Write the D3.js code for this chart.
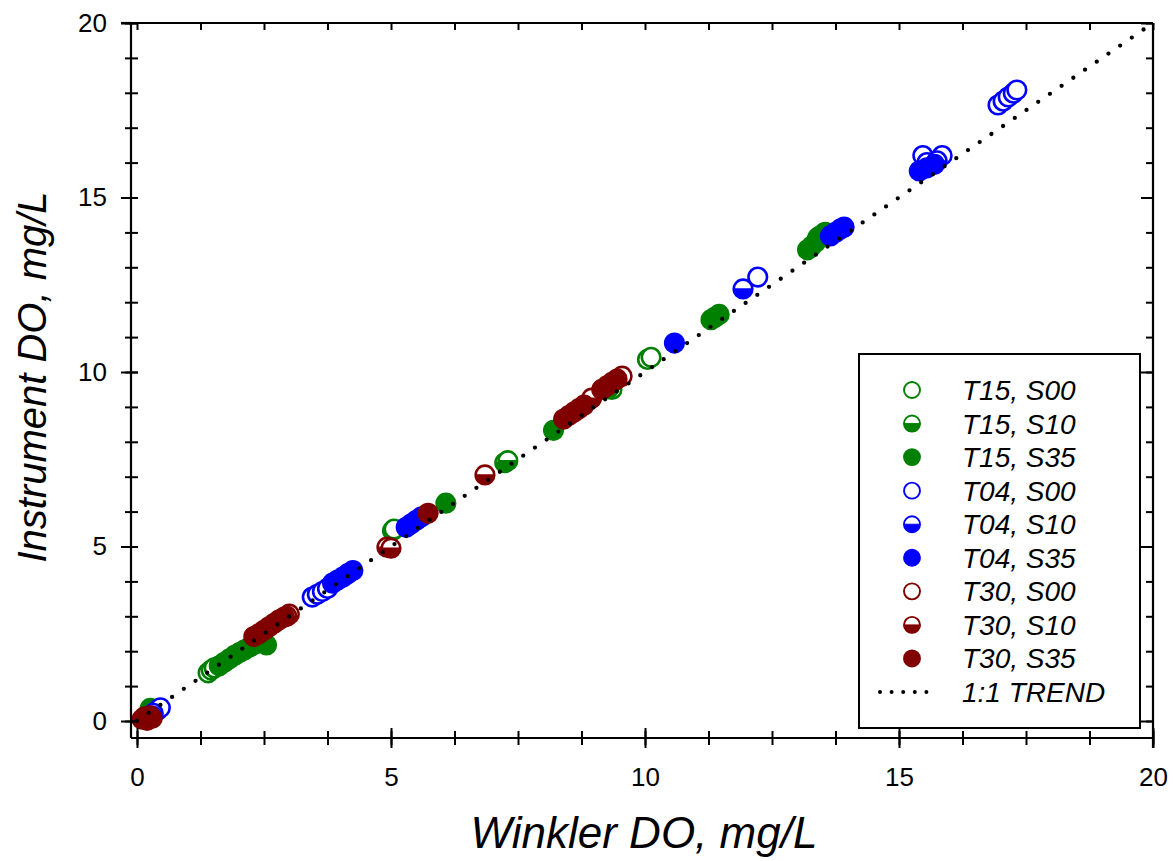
<!DOCTYPE html>
<html>
<head>
<meta charset="utf-8">
<script src="https://cdn.jsdelivr.net/npm/d3@7"></script>
<style>
  html, body { margin: 0; padding: 0; background: #fff; }
  svg { display: block; }
  text { font-family: Arial, "Liberation Sans", sans-serif; fill: #000; }
</style>
</head>
<body>
<svg id="chart" width="1173" height="861"></svg>
<script>
// ---- data (Winkler DO, Instrument DO) in mg/L ----
const T15_S00 = [[1.40,1.38],[1.46,1.46],[1.52,1.52],[5.03,5.45],[5.06,5.50],[9.35,9.50],[10.05,10.36],[10.12,10.42],[13.40,13.85]];
const T15_S10 = [[7.24,7.40],[7.30,7.46],[9.28,9.52],[13.45,13.90],[13.52,13.97]];
const T15_S35 = [[0.26,0.36],[1.62,1.58],[1.72,1.68],[1.82,1.78],[1.92,1.88],[2.02,1.96],[2.12,2.04],[2.22,2.12],[2.32,2.20],[2.55,2.18],
                 [6.08,6.24],[8.20,8.33],[11.30,11.50],[11.38,11.57],[11.46,11.65],
                 [13.20,13.50],[13.28,13.60],[13.36,13.72],[13.46,13.86],[13.55,14.00]];
const T04_S00 = [[0.40,0.30],[0.46,0.38],[3.45,3.55],[3.55,3.63],[3.65,3.71],[3.75,3.80],[12.22,12.72],
                 [15.47,16.20],[15.85,16.20],[16.95,17.65],[17.05,17.76],[17.15,17.88],[17.25,17.99],[17.32,18.08]];
const T04_S10 = [[0.32,0.22],[11.93,12.38],[15.55,16.00],[15.75,16.05]];
const T04_S35 = [[0.30,0.14],[3.85,3.95],[3.95,4.04],[4.05,4.12],[4.15,4.22],[4.25,4.31],
                 [5.30,5.55],[5.40,5.65],[5.50,5.75],[5.60,5.85],[10.58,10.83],
                 [13.65,13.90],[13.75,14.00],[13.85,14.10],[13.92,14.15],[15.40,15.76],[15.55,15.85],[15.70,15.95]];
const T30_S00 = [[3.00,3.06],[9.55,9.88]];
const T30_S10 = [[2.95,3.00],[4.92,4.98],[5.00,4.95],[6.85,7.05],[8.95,9.25]];
const T30_S35 = [[0.10,0.05],[0.15,0.12],[0.20,0.02],[0.25,0.15],[0.30,0.08],
                 [2.30,2.42],[2.40,2.50],[2.50,2.60],[2.60,2.70],[2.70,2.80],[2.80,2.90],[2.90,2.98],
                 [5.73,5.95],[8.40,8.65],[8.50,8.75],[8.60,8.85],[8.70,8.95],[8.80,9.05],
                 [9.15,9.50],[9.25,9.60],[9.35,9.70],[9.45,9.80]];
const trend = [[0,0],[20,20]];

const seriesNames = ["T15, S00","T15, S10","T15, S35","T04, S00","T04, S10","T04, S35","T30, S00","T30, S10","T30, S35"];
const seriesData  = [T15_S00,T15_S10,T15_S35,T04_S00,T04_S10,T04_S35,T30_S00,T30_S10,T30_S35];
const seriesColor = ["#008000","#008000","#008000","#0000ff","#0000ff","#0000ff","#800000","#800000","#800000"];
const seriesFill  = ["open","half","full","open","half","full","open","half","full"];
const trendLabel = "1:1 TREND";
const xTitle = "Winkler DO, mg/L";
const yTitle = "Instrument DO, mg/L";
const majorTicks = [0,5,10,15,20];
const xMinorTicks = d3.range(0, 20.001, 1.25);
const yMinorTicks = d3.range(0, 20.001, 1);

// ---- layout ----
const svg = d3.select("#chart");
const x = d3.scaleLinear().domain([0,20]).range([137,1153]);
const y = d3.scaleLinear().domain([0,20]).range([721,23]);
const frameLeft = 131, frameBottom = 738;

function drawMarker(g, kind, color, r, sw) {
  const arc = d3.arc().innerRadius(0).outerRadius(r).startAngle(Math.PI/2).endAngle(3*Math.PI/2);
  if (kind === "full") {
    g.append("circle").attr("r", r).attr("fill", color).attr("stroke", color).attr("stroke-width", sw);
  } else {
    g.append("circle").attr("r", r).attr("fill", "#fff").attr("stroke", color).attr("stroke-width", sw);
    if (kind === "half") g.append("path").attr("d", arc()).attr("fill", color).attr("stroke", color).attr("stroke-width", sw*0.5);
  }
}

const pts = svg.append("g");
seriesData.forEach((data, i) => {
  pts.selectAll(null).data(data).enter().append("g")
    .attr("transform", d => `translate(${x(d[0])},${y(d[1])})`)
    .each(function() { drawMarker(d3.select(this), seriesFill[i], seriesColor[i], 9.3, 2.6); });
});

// trend line (dotted)
svg.append("path")
  .attr("d", d3.line().x(d => x(d[0])).y(d => y(d[1]))(trend))
  .attr("fill", "none").attr("stroke", "#000").attr("stroke-width", 4.3)
  .attr("stroke-linecap", "round").attr("stroke-dasharray", "0,14.2");

// ---- axes ----
const axG = svg.append("g");
function styleAxis(g) {
  g.select(".domain").remove();
  g.selectAll("line").attr("stroke", "#000").attr("stroke-width", 2);
}
const tickFont = g => g.selectAll("text").attr("font-size", 26)
  .attr("font-family", "Arial, 'Liberation Sans', sans-serif").attr("fill", "#000");
// bottom minor (crossing)
axG.append("g").attr("transform", `translate(0,${frameBottom})`)
  .call(d3.axisBottom(x).tickValues(xMinorTicks).tickSize(7).tickFormat(""))
  .call(styleAxis).call(g => g.selectAll("line").attr("y1", -7));
// bottom major
axG.append("g").attr("transform", `translate(0,${frameBottom})`)
  .call(d3.axisBottom(x).tickValues(majorTicks).tickSize(10).tickPadding(20).tickFormat(d3.format("d")))
  .call(styleAxis).call(g => g.selectAll("line").attr("y1", -10)).call(tickFont);
// top (inward)
axG.append("g").attr("transform", `translate(0,${y(20)})`)
  .call(d3.axisBottom(x).tickValues(xMinorTicks).tickSize(7).tickFormat(""))
  .call(styleAxis);
// left minor (crossing)
axG.append("g").attr("transform", `translate(${frameLeft},0)`)
  .call(d3.axisLeft(y).tickValues(yMinorTicks).tickSize(6).tickFormat(""))
  .call(styleAxis).call(g => g.selectAll("line").attr("x1", 7));
// left major
axG.append("g").attr("transform", `translate(${frameLeft},0)`)
  .call(d3.axisLeft(y).tickValues(majorTicks).tickSize(10).tickPadding(14).tickFormat(d3.format("d")))
  .call(styleAxis).call(g => g.selectAll("line").attr("x1", 7)).call(tickFont);
// right (inward)
axG.append("g").attr("transform", `translate(${x(20)},0)`)
  .call(d3.axisLeft(y).tickValues(yMinorTicks).tickSize(7).tickFormat(""))
  .call(styleAxis);
axG.append("g").attr("transform", `translate(${x(20)},0)`)
  .call(d3.axisLeft(y).tickValues(majorTicks).tickSize(12).tickFormat(""))
  .call(styleAxis);

// frame lines
const frame = svg.append("g").attr("stroke", "#000").attr("stroke-width", 2.2);
frame.append("line").attr("x1", frameLeft).attr("x2", frameLeft).attr("y1", y(20)).attr("y2", frameBottom);
frame.append("line").attr("x1", frameLeft).attr("x2", x(20)).attr("y1", frameBottom).attr("y2", frameBottom);
frame.append("line").attr("x1", frameLeft).attr("x2", x(20)).attr("y1", y(20)).attr("y2", y(20));
frame.append("line").attr("x1", x(20)).attr("x2", x(20)).attr("y1", y(20)).attr("y2", frameBottom + 10);
frame.append("line").attr("x1", frameLeft - 10).attr("x2", frameLeft).attr("y1", y(20)).attr("y2", y(20));

// axis titles
svg.append("text").attr("x", 644).attr("y", 848).attr("text-anchor", "middle")
  .attr("font-size", 44).attr("font-style", "italic").text(xTitle);
svg.append("text").attr("transform", "translate(46,377) rotate(-90)").attr("text-anchor", "middle")
  .attr("font-size", 40).attr("font-style", "italic").text(yTitle);

// ---- legend ----
const lg = svg.append("g");
lg.append("rect").attr("x", 859).attr("y", 354).attr("width", 281).attr("height", 374)
  .attr("fill", "#fff").attr("stroke", "#000").attr("stroke-width", 2);
const rowY = d3.scalePoint().domain(d3.range(10)).range([390, 692]);
seriesNames.forEach((name, i) => {
  const g = lg.append("g").attr("transform", `translate(912,${rowY(i)})`);
  drawMarker(g, seriesFill[i], seriesColor[i], 8, 1.9);
  lg.append("text").attr("x", 962).attr("y", rowY(i) + 10).attr("font-size", 28)
    .attr("font-style", "italic").text(name);
});
lg.append("line").attr("x1", 880).attr("x2", 938).attr("y1", rowY(9)).attr("y2", rowY(9))
  .attr("stroke", "#000").attr("stroke-width", 4).attr("stroke-linecap", "round").attr("stroke-dasharray", "0,11.6");
lg.append("text").attr("x", 962).attr("y", rowY(9) + 10).attr("font-size", 28)
  .attr("font-style", "italic").text(trendLabel);
</script>
</body>
</html>
